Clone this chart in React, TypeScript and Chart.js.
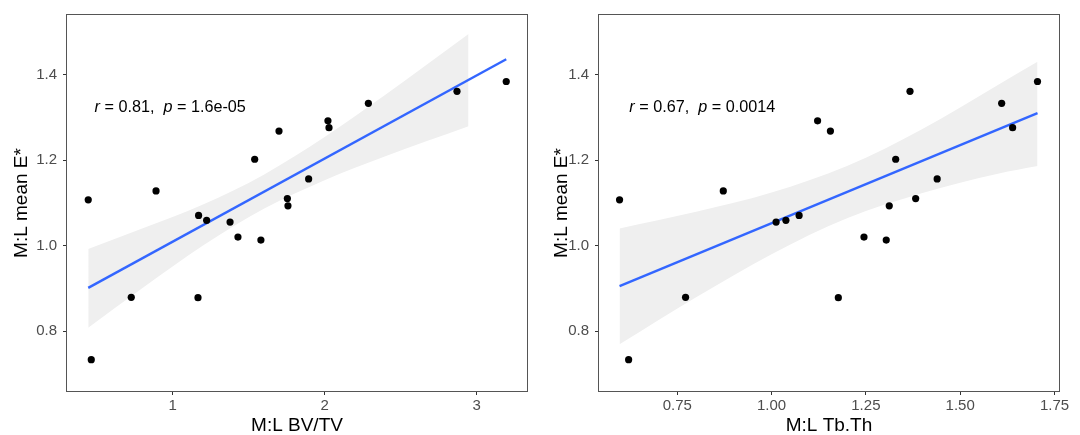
import React, { useEffect, useRef } from "react";
import { Chart, registerables } from "chart.js";

Chart.register(...registerables);

// ---- data ----
const MEAN_E = [1.107, 0.733, 0.879, 1.128, 1.0705, 1.059, 0.878, 1.055, 1.02, 1.202, 1.013, 1.268, 1.11, 1.093, 1.156, 1.292, 1.276, 1.333, 1.361, 1.384];
const BV_TV = [0.445, 0.465, 0.728, 0.891, 1.171, 1.224, 1.167, 1.378, 1.43, 1.54, 1.581, 1.7, 1.755, 1.759, 1.895, 2.022, 2.029, 2.288, 2.871, 3.195];
const TB_TH = [0.597, 0.621, 0.772, 0.872, 1.073, 1.038, 1.177, 1.012, 1.245, 1.329, 1.304, 1.156, 1.382, 1.312, 1.439, 1.122, 1.639, 1.61, 1.367, 1.705];

const FIT1_X = [0.445, 3.195];
const FIT1_Y = [0.901, 1.436];
const BAND1_X = [0.445, 0.8, 1.2, 1.6, 2.0, 2.4, 2.947];
const BAND1_UP = [0.992, 1.04, 1.096, 1.166, 1.254, 1.353, 1.495];
const BAND1_LO = [0.808, 0.9, 1.0, 1.086, 1.153, 1.209, 1.279];

const FIT2_X = [0.597, 1.705];
const FIT2_Y = [0.905, 1.31];
const BAND2_X = [0.597, 0.8, 1.0, 1.2, 1.4, 1.6, 1.705];
const BAND2_UP = [1.04, 1.079, 1.124, 1.186, 1.273, 1.376, 1.43];
const BAND2_LO = [0.769, 0.879, 0.98, 1.064, 1.123, 1.168, 1.186];

const Y_TICKS = [0.8, 1.0, 1.2, 1.4];
const Y_TICK_LABELS = ["0.8", "1.0", "1.2", "1.4"];
const X1_TICKS = [1, 2, 3];
const X1_TICK_LABELS = ["1", "2", "3"];
const X2_TICKS = [0.75, 1.0, 1.25, 1.5, 1.75];
const X2_TICK_LABELS = ["0.75", "1.00", "1.25", "1.50", "1.75"];

const STAT1 = { r: "0.81", p: "1.6e-05", x: 0.487, y: 1.324 };
const STAT2 = { r: "0.67", p: "0.0014", x: 0.623, y: 1.324 };

const FONT = "'Liberation Sans', Arial, Helvetica, sans-serif";

const zip = (xs: number[], ys: number[]) => xs.map((x, i) => ({ x, y: ys[i] }));

const framePlugin = {
  id: "frame",
  afterDatasetsDraw(chart: any, _a: any, opts: any) {
    const { ctx, chartArea } = chart;
    const { left, top, right, bottom } = chartArea;
    ctx.save();
    // annotation
    const sx = chart.scales.x.getPixelForValue(opts.stat.x);
    const sy = chart.scales.y.getPixelForValue(opts.stat.y);
    ctx.fillStyle = "#000";
    ctx.textBaseline = "middle";
    ctx.textAlign = "left";
    const parts: [string, boolean][] = [
      ["r", true],
      [" = " + opts.stat.r + ",  ", false],
      ["p", true],
      [" = " + opts.stat.p, false],
    ];
    let cx = sx;
    for (const [t, it] of parts) {
      ctx.font = (it ? "italic " : "") + "16.2px " + FONT;
      ctx.fillText(t, cx, sy);
      cx += ctx.measureText(t).width;
    }
    // panel border
    ctx.strokeStyle = "#555555";
    ctx.lineWidth = 1;
    ctx.strokeRect(Math.round(left) - 0.5, Math.round(top) - 0.5, Math.round(right - left) + 1, Math.round(bottom - top) + 1);
    ctx.restore();
  },
};

type PanelProps = {
  xs: number[];
  fitX: number[];
  fitY: number[];
  bandX: number[];
  bandUp: number[];
  bandLo: number[];
  xTicks: number[];
  xTickLabels: string[];
  xMin: number;
  xMax: number;
  xTitle: string;
  stat: { r: string; p: string; x: number; y: number };
  axisWidth: number;
  rightPad: number;
  offsetLeft: number;
};

function Panel(props: PanelProps) {
  const ref = useRef<HTMLCanvasElement | null>(null);
  useEffect(() => {
    if (!ref.current) return;
    const chart = new Chart(ref.current, {
      type: "scatter",
      data: {
        datasets: [
          {
            type: "scatter",
            data: zip(props.xs, MEAN_E),
            backgroundColor: "#000000",
            borderWidth: 0,
            pointRadius: 3.6,
            order: 0,
          } as any,
          {
            type: "line",
            data: zip(props.fitX, props.fitY),
            borderColor: "#3366FF",
            borderWidth: 2.4,
            pointRadius: 0,
            fill: false,
            order: 1,
          } as any,
          {
            type: "line",
            data: zip(props.bandX, props.bandUp),
            borderWidth: 0,
            borderColor: "rgba(0,0,0,0)",
            backgroundColor: "#EFEFEF",
            pointRadius: 0,
            cubicInterpolationMode: "monotone",
            fill: "+1",
            order: 2,
          } as any,
          {
            type: "line",
            data: zip(props.bandX, props.bandLo),
            borderWidth: 0,
            borderColor: "rgba(0,0,0,0)",
            pointRadius: 0,
            cubicInterpolationMode: "monotone",
            fill: false,
            order: 3,
          } as any,
        ],
      },
      options: {
        responsive: false,
        animation: false,
        devicePixelRatio: 1,
        events: [],
        layout: { padding: { left: 0, right: props.rightPad, top: 14, bottom: 0 } },
        plugins: {
          legend: { display: false },
          tooltip: { enabled: false },
          frame: { stat: props.stat },
        } as any,
        scales: {
          x: {
            type: "linear",
            min: props.xMin,
            max: props.xMax,
            afterBuildTicks: (s: any) => {
              s.ticks = props.xTicks.map((v) => ({ value: v }));
            },
            afterFit: (s: any) => {
              s.height = 44;
            },
            ticks: {
              color: "#4D4D4D",
              font: { family: FONT, size: 15 },
              padding: 2,
              maxRotation: 0,
              autoSkip: false,
              callback: (v: any) => {
                const i = props.xTicks.indexOf(Number(v));
                return i >= 0 ? props.xTickLabels[i] : "";
              },
            },
            grid: { drawOnChartArea: false, drawTicks: true, tickLength: 4, tickColor: "#333333", color: "#333333" },
            border: { display: false },
            title: {
              display: true,
              text: props.xTitle,
              color: "#000",
              font: { family: FONT, size: 19, lineHeight: 1 },
              padding: { top: 0, bottom: 0 },
            },
          },
          y: {
            type: "linear",
            min: 0.6597,
            max: 1.5396,
            afterBuildTicks: (s: any) => {
              s.ticks = Y_TICKS.map((v) => ({ value: v }));
            },
            afterFit: (s: any) => {
              s.width = props.axisWidth;
            },
            ticks: {
              color: "#4D4D4D",
              font: { family: FONT, size: 15 },
              padding: 6,
              autoSkip: false,
              callback: (v: any) => {
                const i = Y_TICKS.indexOf(Number(v));
                return i >= 0 ? Y_TICK_LABELS[i] : "";
              },
            },
            grid: { drawOnChartArea: false, drawTicks: true, tickLength: 4, tickColor: "#333333", color: "#333333" },
            border: { display: false },
            title: {
              display: true,
              text: "M:L mean E*",
              color: "#000",
              font: { family: FONT, size: 19, lineHeight: 1 },
              padding: { top: 12.5, bottom: 0 },
            },
          },
        },
      },
      plugins: [framePlugin as any],
    });
    return () => chart.destroy();
  }, []);
  return (
    <canvas
      ref={ref}
      width={540}
      height={435}
      style={{ position: "absolute", left: props.offsetLeft, top: 0, width: 540, height: 435 }}
    />
  );
}

export default function App() {
  return (
    <div style={{ position: "fixed", left: 0, top: 0, width: 1080, height: 435, background: "#fff" }}>
      <Panel
        xs={BV_TV}
        fitX={FIT1_X}
        fitY={FIT1_Y}
        bandX={BAND1_X}
        bandUp={BAND1_UP}
        bandLo={BAND1_LO}
        xTicks={X1_TICKS}
        xTickLabels={X1_TICK_LABELS}
        xMin={0.3053}
        xMax={3.3316}
        xTitle="M:L BV/TV"
        stat={STAT1}
        axisWidth={67}
        rightPad={13}
        offsetLeft={0}
      />
      <Panel
        xs={TB_TH}
        fitX={FIT2_X}
        fitY={FIT2_Y}
        bandX={BAND2_X}
        bandUp={BAND2_UP}
        bandLo={BAND2_LO}
        xTicks={X2_TICKS}
        xTickLabels={X2_TICK_LABELS}
        xMin={0.5425}
        xMax={1.762}
        xTitle="M:L Tb.Th"
        stat={STAT2}
        axisWidth={59}
        rightPad={21}
        offsetLeft={540}
      />
    </div>
  );
}
